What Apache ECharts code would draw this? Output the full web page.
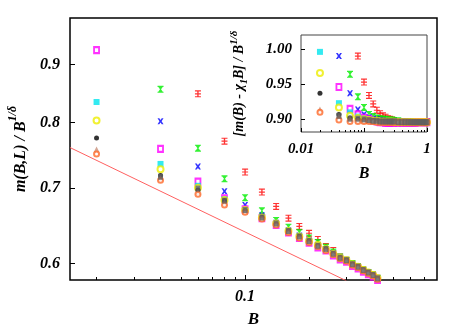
<!DOCTYPE html>
<html>
<head>
<meta charset="utf-8">
<script src="https://cdn.jsdelivr.net/npm/echarts@6/dist/echarts.min.js"></script>
<style>
  html, body { margin: 0; padding: 0; background: #fff; }
  #chart { width: 463px; height: 327px; }
</style>
</head>
<body>
<div id="chart"></div>
<script>
// main plot: m(B,L) / B^(1/delta) against B
var mainB = [0.02, 0.04, 0.06, 0.08, 0.10, 0.12, 0.14, 0.16, 0.18, 0.20, 0.22,
             0.24, 0.26, 0.28, 0.30, 0.32, 0.34, 0.36, 0.38, 0.40, 0.42];
var mainRed     = [null, null, 0.848, 0.770, 0.723, 0.694, 0.674, 0.658, 0.647, 0.638, 0.630, 0.621, 0.616, 0.608, 0.604, 0.599, 0.596, 0.592, 0.589, 0.586, 0.582];
var mainGreen   = [null, 0.856, 0.759, 0.713, 0.686, 0.668, 0.655, 0.646, 0.639, 0.632, 0.626, 0.620, 0.614, 0.608, 0.604, 0.600, 0.596, 0.592, 0.589, 0.586, 0.582];
var mainBlue    = [null, 0.802, 0.731, 0.695, 0.676, 0.662, 0.652, 0.642, 0.635, 0.629, 0.623, 0.618, 0.613, 0.607, 0.604, 0.599, 0.596, 0.592, 0.589, 0.586, 0.582];
var mainMagenta = [0.927, 0.758, 0.709, 0.685, 0.670, 0.658, 0.649, 0.639, 0.632, 0.626, 0.620, 0.616, 0.610, 0.605, 0.602, 0.597, 0.594, 0.590, 0.587, 0.584, 0.580];
var mainCyan    = [0.834, 0.735, 0.703, 0.684, 0.669, 0.659, 0.650, 0.641, 0.634, 0.628, 0.622, 0.618, 0.612, 0.607, 0.604, 0.599, 0.596, 0.592, 0.589, 0.586, 0.582];
var mainYellow  = [0.803, 0.727, 0.700, 0.683, 0.669, 0.659, 0.651, 0.641, 0.634, 0.628, 0.623, 0.618, 0.612, 0.607, 0.604, 0.599, 0.596, 0.592, 0.589, 0.586, 0.582];
var mainBlack   = [0.775, 0.718, 0.697, 0.682, 0.668, 0.659, 0.650, 0.641, 0.634, 0.628, 0.622, 0.618, 0.612, 0.607, 0.604, 0.599, 0.596, 0.592, 0.589, 0.586, 0.581];
var mainTan     = [0.757, 0.714, 0.694, 0.679, 0.667, 0.658, 0.650, 0.640, 0.633, 0.627, 0.621, 0.617, 0.611, 0.606, 0.603, 0.598, 0.595, 0.591, 0.588, 0.585, 0.581];
var mainOrange  = [0.750, 0.711, 0.691, 0.676, 0.666, 0.657, 0.649, 0.639, 0.632, 0.626, 0.621, 0.616, 0.611, 0.606, 0.603, 0.598, 0.595, 0.591, 0.588, 0.585, 0.581];
var mainGray    = [null, 0.716, 0.699, 0.682, 0.669, 0.659, 0.651, 0.641, 0.634, 0.628, 0.622, 0.618, 0.612, 0.607, 0.604, 0.599, 0.596, 0.592, 0.589, 0.586, 0.582];

// straight reference line (two end points)
var lineB = [0.015, 0.30];
var lineV = [0.760, 0.579];

// inset: [m(B) - chi_1 B] / B^(1/delta) against B
var insetB = [0.02, 0.04, 0.06, 0.08, 0.10, 0.12, 0.14, 0.16, 0.18, 0.20, 0.22, 0.24, 0.26, 0.28, 0.30,
              0.35, 0.40, 0.45, 0.50, 0.55, 0.60, 0.65, 0.70, 0.75, 0.80, 0.85, 0.90, 0.95, 1.00];
var insetRed     = [null, null, null, 0.990, 0.953, 0.934, 0.922, 0.913, 0.908, 0.905, 0.903, 0.901, 0.900, 0.899, 0.898, 0.897, 0.897, 0.897, 0.897, 0.897, 0.897, 0.897, 0.897, 0.897, 0.897, 0.897, 0.897, 0.897, 0.897];
var insetGreen   = [null, null, 0.964, 0.932, 0.917, 0.907, 0.904, 0.902, 0.901, 0.900, 0.900, 0.899, 0.899, 0.899, 0.898, 0.898, 0.897, 0.897, 0.897, 0.897, 0.897, 0.897, 0.897, 0.897, 0.897, 0.897, 0.897, 0.897, 0.897];
var insetBlue    = [null, 0.990, 0.937, 0.914, 0.907, 0.903, 0.901, 0.900, 0.899, 0.899, 0.898, 0.898, 0.898, 0.897, 0.897, 0.897, 0.897, 0.897, 0.897, 0.896, 0.896, 0.896, 0.896, 0.896, 0.896, 0.896, 0.896, 0.896, 0.896];
var insetMagenta = [null, 0.946, 0.915, 0.907, 0.902, 0.900, 0.898, 0.897, 0.896, 0.896, 0.895, 0.895, 0.895, 0.895, 0.895, 0.895, 0.895, 0.895, 0.895, 0.895, 0.895, 0.895, 0.896, 0.896, 0.896, 0.896, 0.896, 0.896, 0.896];
var insetCyan    = [0.996, 0.923, 0.910, 0.904, 0.901, 0.899, 0.898, 0.898, 0.897, 0.897, 0.897, 0.897, 0.897, 0.897, 0.896, 0.896, 0.896, 0.896, 0.896, 0.896, 0.896, 0.896, 0.896, 0.896, 0.896, 0.896, 0.896, 0.896, 0.896];
var insetYellow  = [0.966, 0.917, 0.905, 0.902, 0.900, 0.899, 0.898, 0.898, 0.897, 0.897, 0.897, 0.897, 0.897, 0.897, 0.896, 0.896, 0.896, 0.896, 0.896, 0.896, 0.896, 0.896, 0.896, 0.896, 0.896, 0.896, 0.896, 0.896, 0.896];
var insetBlack   = [0.937, 0.907, 0.902, 0.900, 0.899, 0.898, 0.898, 0.897, 0.897, 0.897, 0.897, 0.897, 0.896, 0.896, 0.896, 0.896, 0.896, 0.896, 0.896, 0.896, 0.896, 0.896, 0.896, 0.896, 0.896, 0.896, 0.896, 0.896, 0.896];
var insetTan     = [0.914, 0.904, 0.900, 0.899, 0.898, 0.898, 0.897, 0.897, 0.897, 0.897, 0.896, 0.896, 0.896, 0.896, 0.896, 0.896, 0.896, 0.896, 0.896, 0.896, 0.896, 0.896, 0.896, 0.896, 0.896, 0.896, 0.896, 0.896, 0.896];
var insetOrange  = [0.910, 0.899, 0.897, 0.897, 0.897, 0.897, 0.897, 0.896, 0.896, 0.896, 0.896, 0.896, 0.896, 0.896, 0.896, 0.896, 0.896, 0.896, 0.896, 0.896, 0.896, 0.896, 0.896, 0.896, 0.896, 0.896, 0.896, 0.896, 0.896];
var insetGray    = [null, 0.905, 0.901, 0.901, 0.900, 0.899, 0.898, 0.898, 0.897, 0.897, 0.897, 0.897, 0.897, 0.897, 0.897, 0.896, 0.896, 0.896, 0.896, 0.896, 0.896, 0.896, 0.896, 0.896, 0.896, 0.896, 0.896, 0.896, 0.896];

// tick labels
var mainYTicks = [0.6, 0.7, 0.8, 0.9];
var mainXLabels = [0.1];
var mainXMinor = [0.02, 0.03, 0.04, 0.05, 0.06, 0.07, 0.08, 0.09, 0.2, 0.3, 0.4, 0.5, 0.6, 0.7];
var insetYTicks = [0.90, 0.95, 1.00];
var insetXLabels = [0.01, 0.1, 1];
var insetXMinor = [0.02, 0.03, 0.04, 0.05, 0.06, 0.07, 0.08, 0.09, 0.2, 0.3, 0.4, 0.5, 0.6, 0.7, 0.8, 0.9];

var FONT = 'Liberation Serif';
function lab(size) {
    return { fontFamily: FONT, fontStyle: 'italic', fontWeight: 'bold', fontSize: size, color: '#000' };
}

// symbols roughly like the gnuplot points with their error bars
var SYM = {
    plus: 'path://M0,0H8V1.6H4.9V4.2H8V5.8H4.9V8.4H8V10H0V8.4H3.1V5.8H0V4.2H3.1V1.6H0Z',
    hour: 'path://M0,0H8V1.6H7L4.7,5L7,8.4H8V10H0V8.4H1L3.3,5L1,1.6H0Z',
    star: 'path://M0,0H3L5,2.8L7,0H10L6.8,5L10,10H7L5,7.2L3,10H0L3.2,5Z'
};
var styles = [
    { name: 'red',     color: '#ff0000', symbol: SYM.plus, size: [6, 7] },
    { name: 'green',   color: '#00ee00', symbol: SYM.hour, size: [6, 7] },
    { name: 'blue',    color: '#0000ff', symbol: SYM.star, size: [6, 6] },
    { name: 'magenta', color: '#ff00ff', symbol: 'emptyRect', size: [5, 6] },
    { name: 'cyan',    color: '#00e5ee', symbol: 'rect', size: [6, 6] },
    { name: 'yellow',  color: '#eeee00', symbol: 'emptyCircle', size: [6, 6] },
    { name: 'black',   color: '#000000', symbol: 'circle', size: [5, 5] },
    { name: 'tan',     color: '#c8907a', symbol: 'triangle', size: [6, 6] },
    { name: 'orange',  color: '#ff6a2a', symbol: 'emptyCircle', size: [5, 5] },
    { name: 'gray',    color: '#606060', symbol: 'rect', size: [5, 6] }
];
var mainSets = [mainRed, mainGreen, mainBlue, mainMagenta, mainCyan, mainYellow, mainBlack, mainTan, mainOrange, mainGray];
var insetSets = [insetRed, insetGreen, insetBlue, insetMagenta, insetCyan, insetYellow, insetBlack, insetTan, insetOrange, insetGray];

function pts(bs, vs) {
    var out = [];
    for (var i = 0; i < bs.length; i++) {
        if (vs[i] != null) out.push([bs[i], vs[i]]);
    }
    return out;
}

var series = [{
    type: 'line',
    xAxisIndex: 0, yAxisIndex: 0,
    data: pts(lineB, lineV),
    symbol: 'none',
    lineStyle: { color: '#ff6060', width: 1 },
    clip: true,
    z: 1
}];
styles.forEach(function (s, k) {
    var item = {
        color: s.color,
        borderColor: s.color,
        borderWidth: s.symbol.indexOf('empty') === 0 ? 1.5 : 0
    };
    series.push({
        type: 'scatter', name: s.name,
        xAxisIndex: 0, yAxisIndex: 0,
        data: pts(mainB, mainSets[k]),
        symbol: s.symbol, symbolSize: s.size,
        itemStyle: item, z: 2 + k
    });
    series.push({
        type: 'scatter', name: s.name,
        xAxisIndex: 2, yAxisIndex: 1,
        data: pts(insetB, insetSets[k]),
        symbol: s.symbol, symbolSize: s.size,
        itemStyle: item, z: 2 + k
    });
});

var chart = echarts.init(document.getElementById('chart'), null, { renderer: 'canvas' });
chart.setOption({
    animation: false,
    backgroundColor: '#fff',
    grid: [
        { left: 70, top: 18, width: 367, height: 262, outerBoundsMode: 'none', containLabel: false,
          show: true, borderColor: '#000', borderWidth: 1.5, backgroundColor: '#fff' },
        { left: 301, top: 35, width: 126, height: 97, outerBoundsMode: 'none', containLabel: false,
          show: true, borderColor: '#444', borderWidth: 1, backgroundColor: '#fff' }
    ],
    xAxis: [
        {
            gridIndex: 0, type: 'log', logBase: 10, min: 0.015, max: 0.8, position: 'bottom',
            axisLine: { show: false },
            axisTick: { inside: true, length: 3, customValues: mainXMinor.concat(mainXLabels), lineStyle: { color: '#000' } },
            axisLabel: { customValues: mainXLabels, margin: 9, formatter: function (v) { return String(+(+v).toPrecision(3)); }, ...lab(16) },
            splitLine: { show: false },
            name: 'B', nameLocation: 'middle', nameGap: 31, nameTextStyle: lab(17)
        },
        {
            gridIndex: 0, type: 'log', logBase: 10, min: 0.015, max: 0.8, position: 'top', offset: -262,
            axisLine: { show: false },
            axisTick: { inside: false, length: 5, customValues: mainXLabels, lineStyle: { color: '#000' } },
            axisLabel: { show: false },
            splitLine: { show: false }
        },
        {
            gridIndex: 1, type: 'log', logBase: 10, min: 0.01, max: 1, position: 'bottom',
            axisLine: { show: false },
            axisTick: { inside: true, length: 2, customValues: insetXMinor.concat(insetXLabels), lineStyle: { color: '#000' } },
            axisLabel: { customValues: insetXLabels, margin: 10, formatter: function (v) { return String(+(+v).toPrecision(3)); }, ...lab(15) },
            splitLine: { show: false },
            name: 'B', nameLocation: 'middle', nameGap: 34, nameTextStyle: lab(16)
        },
        {
            gridIndex: 1, type: 'log', logBase: 10, min: 0.01, max: 1, position: 'top', offset: -97,
            axisLine: { show: false },
            axisTick: { inside: false, length: 4, customValues: insetXLabels, lineStyle: { color: '#000' } },
            axisLabel: { show: false },
            splitLine: { show: false }
        }
    ],
    yAxis: [
        {
            gridIndex: 0, type: 'log', logBase: 10, min: 0.58, max: 0.99,
            axisLine: { show: false },
            axisTick: { inside: true, length: 5, customValues: mainYTicks, lineStyle: { color: '#000' } },
            axisLabel: { customValues: mainYTicks, margin: 10, formatter: function (v) { return (+v).toFixed(1); }, ...lab(16) },
            splitLine: { show: false },
            name: '{t|m(B,L) / B}{s|1/δ}', nameLocation: 'middle', nameGap: 41,
            nameTextStyle: {
                rich: {
                    t: Object.assign(lab(16), { lineHeight: 22, verticalAlign: 'bottom' }),
                    s: Object.assign(lab(12), { lineHeight: 12, verticalAlign: 'top' })
                }
            }
        },
        {
            gridIndex: 1, type: 'value', min: 0.882, max: 1.02,
            axisLine: { show: false },
            axisTick: { inside: true, length: 4, customValues: insetYTicks, lineStyle: { color: '#000' } },
            axisLabel: { customValues: insetYTicks, margin: 9, formatter: function (v) { return (+v).toFixed(2); }, ...lab(15) },
            splitLine: { show: false },
            name: '{t|[m(B) - χ}{b|1}{t|B] / B}{s|1/δ}', nameLocation: 'middle', nameGap: 52,
            nameTextStyle: {
                rich: {
                    t: Object.assign(lab(14), { lineHeight: 20, verticalAlign: 'middle' }),
                    b: Object.assign(lab(10), { lineHeight: 10, verticalAlign: 'bottom' }),
                    s: Object.assign(lab(11), { lineHeight: 11, verticalAlign: 'top' })
                }
            }
        }
    ],
    series: series
});
</script>
</body>
</html>
